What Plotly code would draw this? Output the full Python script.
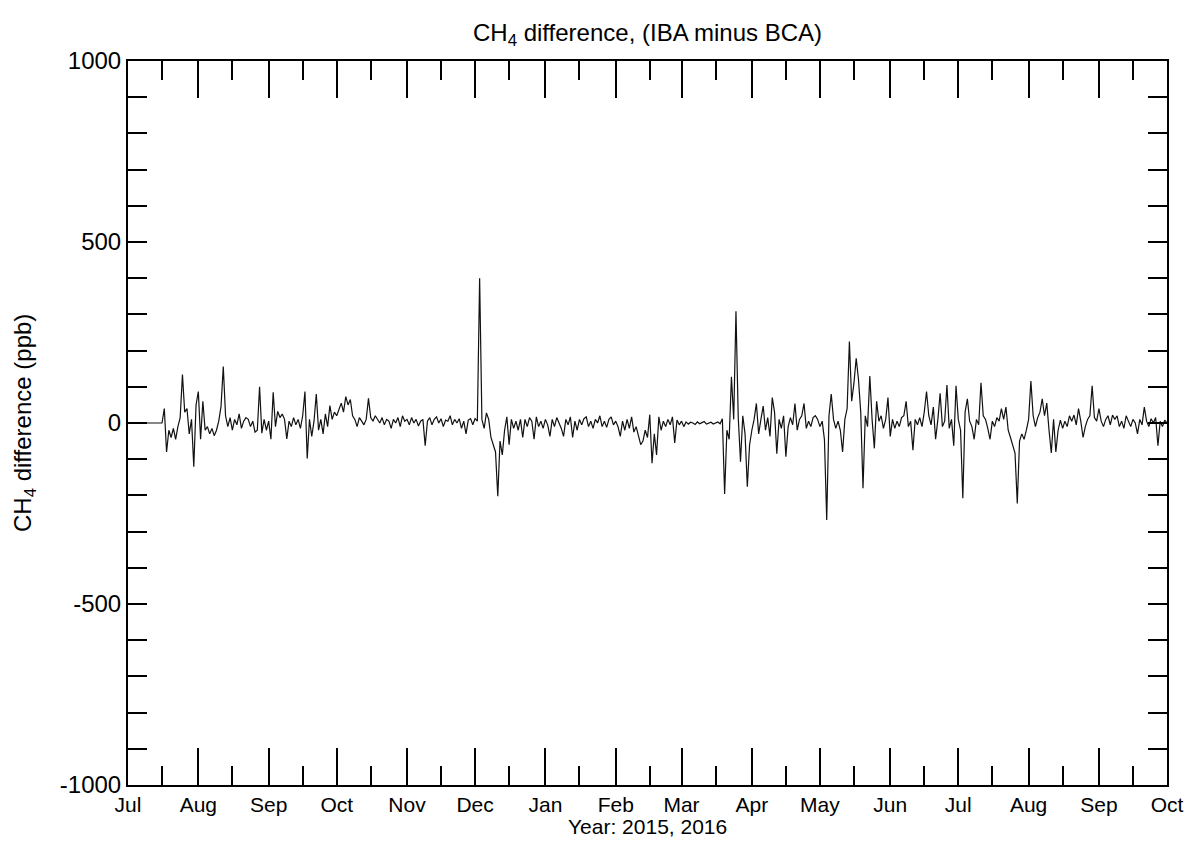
import pandas as pd
import plotly.graph_objects as go

# Daily CH4 difference values (ppb), 2015-07-01 .. 2016-10-01
jul_2015 = [0] * 16 + [40, -80, -20, -40, -15, -45, -10, 15, 134, 30, 40, -30, 10, -121, 50]
aug_2015 = [87, -45, 60, -20, -10, -30, -15, -35, -20, 5, 45, 156, 20, -10, 15, -20, 10, -5, 25, -15,
            5, 15, 10, -10, 5, -25, -20, 100, -28, 10, -20]
sep_2015 = [5, -45, 85, -10, 32, 15, 25, 10, -44, 5, -10, 15, -5, 10, -15, 20, 87, -98, 10, -37,
            5, 80, -20, 10, -30, 25, -10, 48, 10, 30]
oct_2015 = [20, 40, 55, 30, 73, 50, 65, 20, 10, -10, 15, 5, -5, 10, 68, 15, 5, 20, 10, 0,
            15, -5, 10, 5, -15, 10, 0, 15, -10, 20, 5]
nov_2015 = [10, -5, 15, 0, 10, -8, 5, 10, -63, 5, 15, -5, 10, 17, 0, 12, -10, 8, 5, 20,
            -5, 10, 0, 12, -15, 5, -30, 8, 12, -5]
dec_2015 = [12, 5, 400, 10, -15, 28, 10, -40, -60, -80, -202, -50, -88, -20, 17, -60, 10, -15, 5, -20,
            10, -40, 10, -10, 15, 5, -45, 17, -10, 5, -15]
jan_2016 = [10, -5, -37, 10, -10, 15, 0, -15, -37, 10, -5, 17, -40, 5, -20, 10, -5, 12, 17, -10,
            5, -15, 10, 0, 20, -10, 5, -12, 10, 17, -5]
feb_2016 = [5, -10, -37, 5, -20, 10, -15, 17, -25, -10, -35, -60, -50, -20, -40, 23, -111, -30, -88, 17,
            -20, 5, -10, 10, -5, 17, -55, 8, -5]
mar_2016 = [5, -10, 3, -3, 2, 0, -4, 3, -2, 1, 4, -3, 0, 2, -3, 1, 3, -2, 12, -196,
            -20, -45, 128, 10, 309, 15, -107, 20, -30, -176, -60]
apr_2016 = [-20, 10, 54, -30, 10, 47, -20, 15, -37, 70, 30, -85, 10, -15, 20, -93, -10, 15, -5, 54,
            -20, 10, 20, 54, -15, 5, -10, 15, 20, 10]
may_2016 = [-10, 5, -46, -268, 20, 80, 10, -15, 5, -20, -80, 10, 40, 225, 60, 110, 179, 120, 30, -180,
            20, -10, 130, 10, -70, 60, 5, 20, -15, 10, 70]
jun_2016 = [-37, 10, -15, 5, -10, 15, 20, 60, -10, 5, -75, 10, -5, 15, -10, 30, 87, 20, -5, 44,
            -45, 10, 82, -10, 5, 105, -15, 10, -63, 103]
jul_2016 = [10, -20, -208, 30, 67, 5, -10, -45, 10, -5, 111, 20, 10, -15, -45, 5, -10, 15, 5, 40,
            10, 44, -20, -40, -60, -83, -222, -50, -30, -45, -20]
aug_2016 = [10, 116, 20, -10, 15, 30, 67, 20, 55, -20, -83, 10, -80, -20, 8, -15, 5, -10, 20, 5,
            22, -5, 40, 5, -40, -10, 10, 20, 103, 15, 5]
sep_2016 = [40, 5, -10, 10, 20, -5, 22, 10, 20, -10, 5, -15, 20, 5, -10, 10, 0, -30, 10, -5,
            44, 5, -10, 12, 0, 15, -63, 5, -10, 8]
oct_2016 = [0]

months = [jul_2015, aug_2015, sep_2015, oct_2015, nov_2015, dec_2015, jan_2016, feb_2016,
          mar_2016, apr_2016, may_2016, jun_2016, jul_2016, aug_2016, sep_2016, oct_2016]
values = [v for m in months for v in m]
dates = pd.date_range("2015-07-01", periods=len(values), freq="D")

y_tickvals = [-1000, -500, 0, 500, 1000]
y_ticktext = ["-1000", "-500", "0", "500", "1000"]

FONT = "Liberation Sans, Arial, Helvetica, sans-serif"
FS = 24
FSX = 21
L, R, T, B = 128, 24, 61, 56
W, H = 1191, 841
PW, PH = W - L - R, H - T - B

fig = go.Figure()
fig.add_trace(go.Scatter(x=dates, y=values, mode="lines",
                         line=dict(color="#111111", width=1.2), showlegend=False))

fig.update_layout(
    width=W, height=H,
    margin=dict(l=L, r=R, t=T, b=B),
    paper_bgcolor="white", plot_bgcolor="white",
    font=dict(family=FONT, size=FS, color="black"),
    title=dict(text="CH<sub>4</sub> difference, (IBA minus BCA)", x=0.5, xref="paper",
               y=1 - 33 / H, yref="container", yanchor="middle", xanchor="center",
               font=dict(size=FS)),
    annotations=[
        dict(text="Year: 2015, 2016", xref="paper", yref="paper", x=0.5,
             y=-(840 - (H - B)) / PH, xanchor="center", yanchor="bottom",
             showarrow=False, font=dict(size=FSX)),
        dict(text="CH<sub>4</sub> difference (ppb)", xref="paper", yref="paper",
             x=-(L - 24) / PW, y=0.5, xanchor="center", yanchor="middle",
             textangle=-90, showarrow=False, font=dict(size=FS)),
    ],
)

fig.update_xaxes(
    range=["2015-07-01", "2016-10-01"], automargin=False,
    showgrid=False, zeroline=False,
    showline=True, linecolor="black", linewidth=2, mirror="ticks",
    ticks="inside", ticklen=37, tickwidth=2, tickcolor="black",
    tick0="2015-07-01", dtick="M1", tickformat="%b",
    minor=dict(ticks="inside", ticklen=19, tickwidth=2, tickcolor="black",
               tick0="2015-07-16", dtick="M1", showgrid=False),
    tickfont=dict(size=FSX), ticklabelstandoff=0,
)
fig.update_yaxes(
    range=[-1000, 1000], automargin=False,
    showgrid=False, zeroline=False,
    showline=True, linecolor="black", linewidth=2, mirror="ticks",
    ticks="inside", ticklen=19, tickwidth=2, tickcolor="black",
    tickmode="array", tickvals=y_tickvals, ticktext=y_ticktext,
    minor=dict(ticks="inside", ticklen=19, tickwidth=2, tickcolor="black",
               tickmode="linear", tick0=0, dtick=100, showgrid=False),
    tickfont=dict(size=FS),
)

fig.write_html("out.html")
